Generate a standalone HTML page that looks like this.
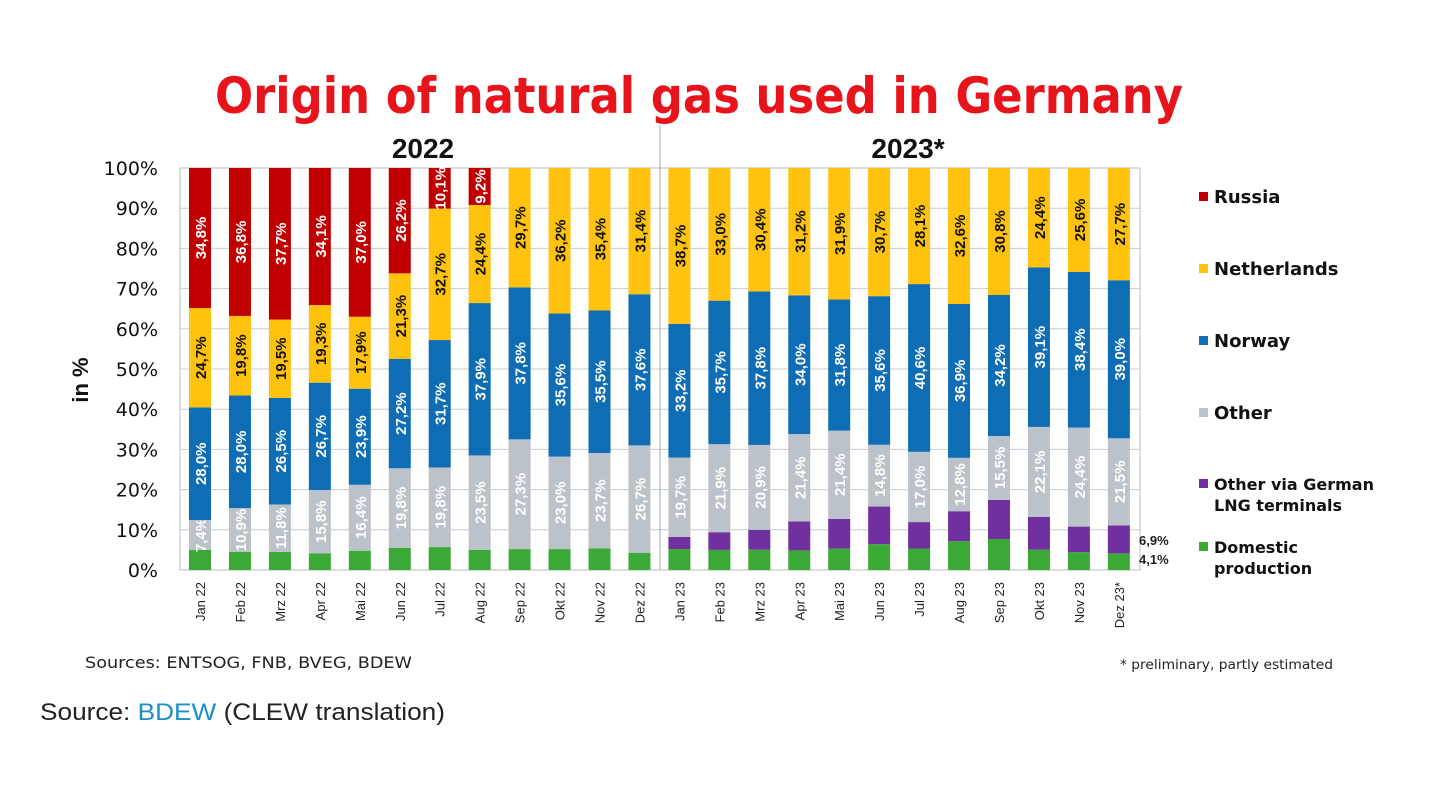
<!DOCTYPE html>
<html><head><meta charset="utf-8">
<style>
body{margin:0;background:#fff;width:1456px;height:803px;overflow:hidden;font-family:"Liberation Sans",sans-serif;}
svg{position:absolute;left:0;top:0}
</style></head>
<body>
<svg id="chart" width="1456" height="803"></svg>
<script>
const categories=["Jan 22","Feb 22","Mrz 22","Apr 22","Mai 22","Jun 22","Jul 22","Aug 22","Sep 22","Okt 22","Nov 22","Dez 22","Jan 23","Feb 23","Mrz 23","Apr 23","Mai 23","Jun 23","Jul 23","Aug 23","Sep 23","Okt 23","Nov 23","Dez 23*"];
const domestic=[5,4.5,4.5,4.1,4.8,5.5,5.7,5,5.2,5.2,5.4,4.3,5.2,5,5,4.8,5.2,6.2,5.2,6.9,7.5,5,4.4,4.1];
const lng=[0,0,0,0,0,0,0,0,0,0,0,0,3,4.4,4.9,7.1,7.2,9,6.4,7.2,9.5,8,6.3,6.9];
const other=[7.4,10.9,11.8,15.8,16.4,19.8,19.8,23.5,27.3,23.0,23.7,26.7,19.7,21.9,20.9,21.4,21.4,14.8,17.0,12.8,15.5,22.1,24.4,21.5];
const norway=[28.0,28.0,26.5,26.7,23.9,27.2,31.7,37.9,37.8,35.6,35.5,37.6,33.2,35.7,37.8,34.0,31.8,35.6,40.6,36.9,34.2,39.1,38.4,39.0];
const netherlands=[24.7,19.8,19.5,19.3,17.9,21.3,32.7,24.4,29.7,36.2,35.4,31.4,38.7,33.0,30.4,31.2,31.9,30.7,28.1,32.6,30.8,24.4,25.6,27.7];
const russia=[34.8,36.8,37.7,34.1,37.0,26.2,10.1,9.2,0,0,0,0,0,0,0,0,0,0,0,0,0,0,0,0];
const yTicks=[0,10,20,30,40,50,60,70,80,90,100];

const NS="http://www.w3.org/2000/svg";
const svg=document.getElementById('chart');
function mk(t,a,txt){const e=document.createElementNS(NS,t);for(const k in a)e.setAttribute(k,a[k]);if(txt!==undefined)e.textContent=txt;svg.appendChild(e);return e;}
const y0=570,y1=168,xL=180,xR=1140;
function yS(v){return y0-(y0-y1)*v/100;}
function xS(i){return 200+i*39.95;}
const BW=22;
const VF='"DejaVu Sans","Liberation Sans",sans-serif';

let t=mk('text',{x:215,y:113,'font-size':50,'font-weight':'bold',fill:'#e8141c',textLength:968,lengthAdjust:'spacingAndGlyphs','font-family':VF},'Origin of natural gas used in Germany');

t=mk('text',{x:423,y:158,'text-anchor':'middle','font-size':28,'font-weight':'bold',fill:'#111'},'2022');

t=mk('text',{x:908,y:158,'text-anchor':'middle','font-size':28,'font-weight':'bold',fill:'#111'},'2023*');


yTicks.forEach(v=>{
  const g=mk('line',{x1:xL,x2:xR,y1:yS(v),y2:yS(v),stroke:'#c8ccd2','stroke-width':1});
  
  const l=mk('text',{x:158,y:yS(v)+7,'text-anchor':'end','font-size':19,fill:'#111','font-family':VF},v+'%');
  
});
let f=mk('rect',{x:xL,y:y1,width:xR-xL,height:y0-y1,fill:'none',stroke:'#b8bcc4'});

let sep=mk('line',{x1:660,x2:660,y1:125,y2:y0,stroke:'#a0a8b0','stroke-width':1});

t=mk('text',{x:0,y:0,transform:'translate(88,380) rotate(-90)','text-anchor':'middle','font-size':22,'font-weight':'bold',fill:'#111'},'in %');


const series=[
 {d:domestic,c:'#3aa935',n:'domestic',lab:false},
 {d:lng,c:'#7030a0',n:'lng',lab:false},
 {d:other,c:'#bcc2ca',n:'other',lab:true,tc:'#fff'},
 {d:norway,c:'#0e6db5',n:'norway',lab:true,tc:'#fff'},
 {d:netherlands,c:'#ffc20e',n:'netherlands',lab:true,tc:'#111'},
 {d:russia,c:'#c00000',n:'russia',lab:true,tc:'#fff'}];
categories.forEach((cat,i)=>{
  let total=0;series.forEach(s=>total+=s.d[i]);
  const k=total>0?100/total:1;
  let acc=0;
  series.forEach(s=>{
    const v=s.d[i];if(v<=0)return;
    const top=yS((acc+v)*k),bot=yS(acc*k);
    const r=mk('rect',{x:xS(i)-BW/2,y:top,width:BW,height:bot-top,fill:s.c});
    
    if(s.lab){
      const cy=(top+bot)/2;
      const lb=mk('text',{x:0,y:0,transform:`translate(${xS(i)+6},${cy}) rotate(-90)`,'text-anchor':'middle','font-size':15,'font-weight':'bold',fill:s.tc},v.toFixed(1).replace('.',',')+'%');
      
    }
    acc+=v;
  });
  const xl=mk('text',{x:0,y:0,transform:`translate(${xS(i)+5},${582}) rotate(-90)`,'text-anchor':'end','font-size':13,fill:'#222'},cat);
  
});

const legend=[['Russia','#c00000',197],['Netherlands','#ffc20e',269],['Norway','#0e6db5',341],['Other','#bcc2ca',413],['Other via German','#7030a0',484],['Domestic','#3aa935',547]];
const legend2={'Other via German':'LNG terminals','Domestic':'production'};
legend.forEach(l=>{
  const s=mk('rect',{x:1199,y:l[2]-5,width:9,height:9,fill:l[1]});
  
  const big=!legend2[l[0]];
  const tx=mk('text',{x:1214,y:l[2]+6,'font-size':big?18:16,'font-weight':'bold',fill:'#111','font-family':VF},l[0]);
  
  if(legend2[l[0]]){const t2=mk('text',{x:1214,y:l[2]+27,'font-size':16,'font-weight':'bold',fill:'#111','font-family':VF},legend2[l[0]]);
    }
});
t=mk('text',{x:1139,y:545,'font-size':13,'font-weight':'bold',fill:'#222'},'6,9%');

t=mk('text',{x:1139,y:564,'font-size':13,'font-weight':'bold',fill:'#222'},'4,1%');

t=mk('text',{x:85,y:668,'font-size':16,fill:'#222',textLength:327,lengthAdjust:'spacingAndGlyphs','font-family':VF},'Sources: ENTSOG, FNB, BVEG, BDEW');

t=mk('text',{x:1120,y:669,'font-size':13,fill:'#222',textLength:213,lengthAdjust:'spacingAndGlyphs','font-family':VF},'* preliminary, partly estimated');

t=mk('text',{x:40,y:720,'font-size':24,fill:'#222',textLength:405,lengthAdjust:'spacingAndGlyphs'});

const a=document.createElementNS(NS,'tspan');a.textContent='Source: ';t.appendChild(a);
const b=document.createElementNS(NS,'tspan');b.textContent='BDEW';b.setAttribute('fill','#1a8fc8');
t.appendChild(b);
const c=document.createElementNS(NS,'tspan');c.textContent=' (CLEW translation)';t.appendChild(c);
</script>
</body></html>
